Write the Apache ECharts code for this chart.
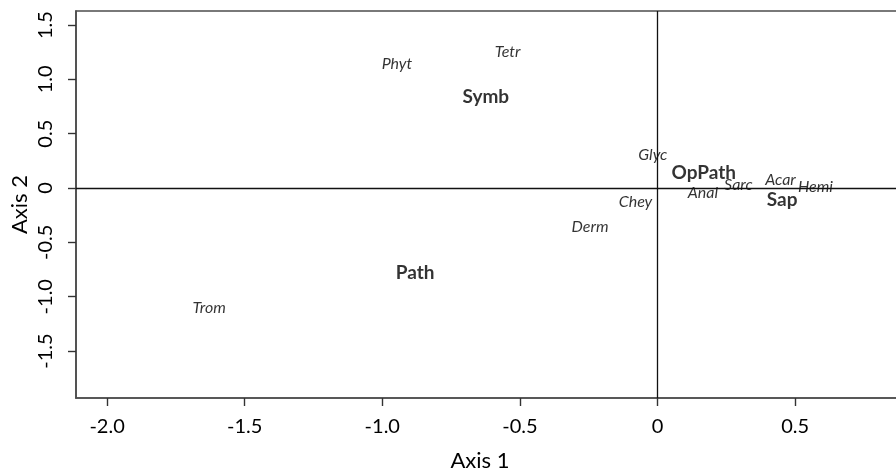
<!DOCTYPE html>
<html>
<head>
<meta charset="utf-8">
<script src="https://cdn.jsdelivr.net/npm/echarts@6/dist/echarts.min.js"></script>
<style>
  html, body { margin: 0; padding: 0; background: #fff; }
  #chart { width: 896px; height: 470px; }
</style>
</head>
<body>
<div id="chart"></div>
<script>
// Ordination scores: taxa (italic) and trophic groups (bold)
const taxaNames = ['Phyt', 'Tetr', 'Glyc', 'Anal', 'Sarc', 'Acar', 'Hemi', 'Chey', 'Derm', 'Trom'];
const taxaAxis1 = [-0.947, -0.545, -0.017, 0.165, 0.294, 0.447, 0.574, -0.080, -0.245, -1.629];
const taxaAxis2 = [1.147, 1.254, 0.301, -0.040, 0.025, 0.071, 0.009, -0.126, -0.356, -1.101];

const groupNames = ['Symb', 'OpPath', 'Sap', 'Path'];
const groupAxis1 = [-0.624, 0.168, 0.453, -0.881];
const groupAxis2 = [0.840, 0.144, -0.110, -0.779];

// Axis ranges and tick labels
const xRange = [-2.113, 0.95];
const yRange = [-1.932, 1.629];
const xTicks = [-2.0, -1.5, -1.0, -0.5, 0, 0.5];
const yTicks = [-1.5, -1.0, -0.5, 0, 0.5, 1.0, 1.5];

const FONT = 'Lato, "Open Sans", sans-serif';

const toPoints = (names, xs, ys) => names.map((n, i) => ({ name: n, value: [xs[i], ys[i]] }));
const fmtTick = v => (v === 0 ? '0' : v.toFixed(1));

const chart = echarts.init(document.getElementById('chart'), null, { renderer: 'canvas' });

// plot region extends past the right edge of the canvas
const left = 76;
const pxPerUnit = 275.2;
const plotWidth = (xRange[1] - xRange[0]) * pxPerUnit;
const right = 896 - left - plotWidth;

const labelBase = {
  show: true,
  position: 'inside',
  align: 'center',
  verticalAlign: 'middle',
  color: '#000',
  fontFamily: FONT,
  formatter: p => p.name
};

chart.setOption({
  animation: false,
  backgroundColor: '#fff',
  grid: {
    left: left,
    right: right,
    top: 11,
    bottom: 72,
    outerBoundsMode: 'none',
    show: true,
    borderColor: '#4d4d4d',
    borderWidth: 1.6,
    backgroundColor: 'transparent'
  },
  xAxis: {
    type: 'value',
    min: xRange[0],
    max: xRange[1],
    name: 'Axis 1',
    nameLocation: 'middle',
    nameGap: 52,
    nameMoveOverlap: false,
    nameTextStyle: { fontFamily: FONT, fontSize: 22, color: '#000', padding: [0, 35, 0, 0] },
    axisLine: { show: true, onZero: false, lineStyle: { color: '#4d4d4d', width: 1.6 } },
    axisTick: { show: true, length: 8, customValues: xTicks, lineStyle: { color: '#333', width: 1.4 } },
    axisLabel: {
      customValues: xTicks,
      formatter: fmtTick,
      fontFamily: FONT,
      fontSize: 20,
      color: '#000',
      margin: 19
    },
    splitLine: { show: false }
  },
  yAxis: {
    type: 'value',
    min: yRange[0],
    max: yRange[1],
    name: 'Axis 2',
    nameLocation: 'middle',
    nameRotate: 90,
    nameGap: 45,
    nameMoveOverlap: false,
    nameTextStyle: { fontFamily: FONT, fontSize: 22, color: '#000' },
    axisLine: { show: true, onZero: false, lineStyle: { color: '#4d4d4d', width: 1.6 } },
    axisTick: { show: true, length: 8, customValues: yTicks, lineStyle: { color: '#333', width: 1.4 } },
    axisLabel: {
      customValues: yTicks,
      formatter: fmtTick,
      rotate: 90,
      fontFamily: FONT,
      fontSize: 20,
      color: '#000',
      margin: 20
    },
    splitLine: { show: false }
  },
  series: [
    {
      name: 'taxa',
      type: 'scatter',
      symbolSize: 0,
      data: toPoints(taxaNames, taxaAxis1, taxaAxis2),
      label: Object.assign({}, labelBase, { fontStyle: 'italic', fontSize: 16 }),
      markLine: {
        silent: true,
        symbol: 'none',
        label: { show: false },
        lineStyle: { color: '#111', width: 1.3, type: 'solid' },
        data: [{ xAxis: 0 }, { yAxis: 0 }]
      },
      z: 3
    },
    {
      name: 'groups',
      type: 'scatter',
      symbolSize: 0,
      data: toPoints(groupNames, groupAxis1, groupAxis2),
      label: Object.assign({}, labelBase, { fontWeight: 'bold', fontSize: 19 }),
      z: 4
    }
  ]
});
</script>
</body>
</html>
